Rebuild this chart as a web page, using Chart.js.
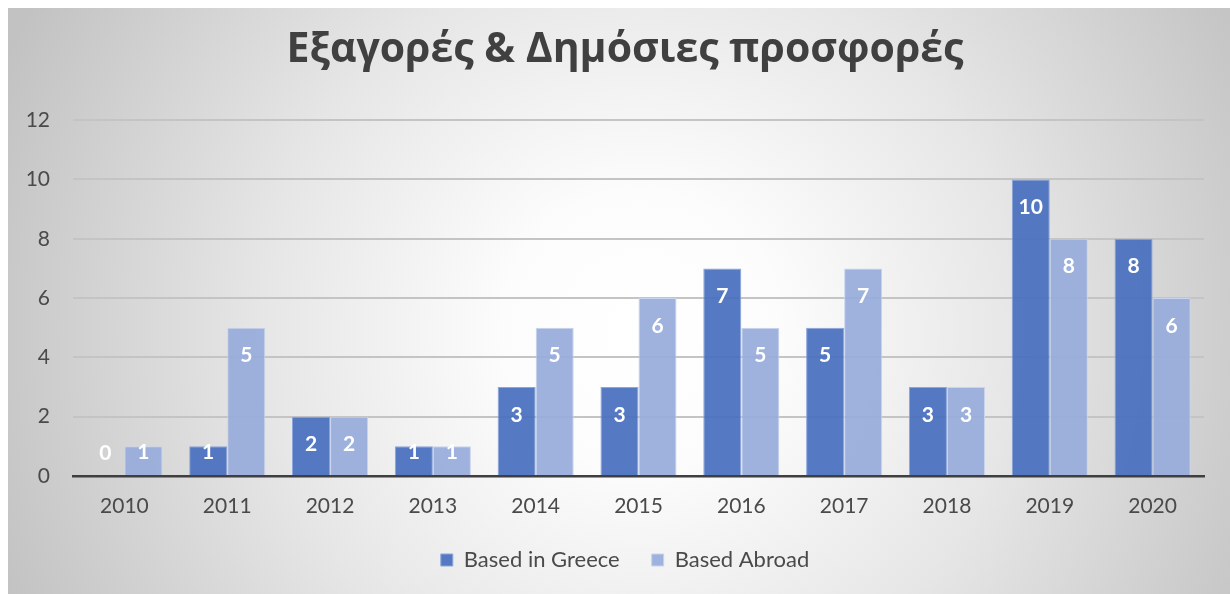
<!DOCTYPE html>
<html>
<head>
<meta charset="utf-8">
<script src="https://cdn.jsdelivr.net/npm/chart.js@4/dist/chart.umd.min.js"></script>
<style>
  html, body { margin: 0; padding: 0; background: #ffffff; }
  #wrap { width: 1230px; height: 594px; position: relative; }
</style>
</head>
<body>
<div id="wrap"><canvas id="c" width="1230" height="594"></canvas></div>
<script>
// Acquisitions & public offers per year
const years = ['2010', '2011', '2012', '2013', '2014', '2015', '2016', '2017', '2018', '2019', '2020'];
const basedInGreece = [0, 1, 2, 1, 3, 3, 7, 5, 3, 10, 8];
const basedAbroad = [1, 5, 2, 1, 5, 6, 5, 7, 3, 8, 6];
const yTicks = [0, 2, 4, 6, 8, 10, 12];

const titleText = 'Εξαγορές & Δημόσιες προσφορές';
const seriesNames = ['Based in Greece', 'Based Abroad'];

// Soft radial panel behind the chart
const panelBackground = {
  id: 'panelBackground',
  beforeDraw(chart) {
    const ctx = chart.ctx;
    const w = chart.width, h = chart.height;
    ctx.save();
    ctx.fillStyle = '#ffffff';
    ctx.fillRect(0, 0, w, h);
    const x0 = 8, y0 = 8;
    const cx = 640, cy = 330;
    const g = ctx.createRadialGradient(cx, cy, 0, cx, cy, 690);
    g.addColorStop(0, '#ffffff');
    g.addColorStop(0.2, '#fcfcfc');
    g.addColorStop(0.55, '#e6e6e6');
    g.addColorStop(1, '#c2c2c2');
    ctx.fillStyle = g;
    ctx.fillRect(x0, y0, w - x0, h - y0);
    ctx.restore();
  }
};

// White value labels near the top of each bar
const barValueLabels = {
  id: 'barValueLabels',
  afterDatasetsDraw(chart) {
    const ctx = chart.ctx;
    ctx.save();
    ctx.font = 'bold 21px Lato, "Open Sans", sans-serif';
    ctx.fillStyle = '#ffffff';
    ctx.textAlign = 'center';
    ctx.textBaseline = 'alphabetic';
    chart.data.datasets.forEach((ds, di) => {
      const meta = chart.getDatasetMeta(di);
      meta.data.forEach((bar, i) => {
        const center = Math.min(bar.y + 27, bar.base - 24);
        ctx.fillText(String(ds.data[i]), bar.x, center + 7.5);
      });
    });
    ctx.restore();
  }
};

new Chart(document.getElementById('c'), {
  type: 'bar',
  data: {
    labels: years,
    datasets: [
      {
        label: seriesNames[0],
        data: basedInGreece,
        backgroundColor: 'rgba(72, 112, 190, 0.93)',
        borderColor: 'rgba(140, 165, 218, 1)',
        borderWidth: 1
      },
      {
        label: seriesNames[1],
        data: basedAbroad,
        backgroundColor: 'rgba(152, 172, 219, 0.93)',
        borderColor: 'rgba(200, 212, 238, 1)',
        borderWidth: 1
      }
    ]
  },
  options: {
    responsive: false,
    animation: false,
    events: [],
    layout: { padding: { left: 20, right: 0, top: 26, bottom: 13 } },
    datasets: {
      bar: { categoryPercentage: 0.74, barPercentage: 1.0 }
    },
    scales: {
      x: {
        afterFit(scale) { scale.height = 41; },
        grid: { display: false, drawTicks: false },
        border: { display: true, color: '#3f3f3f', width: 2.5 },
        ticks: {
          color: '#4a4a4a',
          padding: 18,
          font: { family: 'Lato', size: 21 }
        }
      },
      y: {
        min: 0,
        max: 12,
        afterBuildTicks(scale) {
          scale.ticks = yTicks.map(v => ({ value: v }));
        },
        afterFit(scale) { scale.width = 53; },
        grid: { color: '#c4c4c4', lineWidth: 2, drawTicks: false },
        border: { display: false },
        ticks: {
          color: '#4a4a4a',
          padding: 23,
          font: { family: 'Lato', size: 21 }
        }
      },
      // empty right-hand margin beside the plot
      yRight: {
        position: 'right',
        afterFit(scale) { scale.width = 26; },
        grid: { display: false, drawTicks: false },
        border: { display: false },
        ticks: { display: false }
      }
    },
    plugins: {
      title: {
        display: true,
        text: titleText,
        color: '#404040',
        font: { family: '"Open Sans"', size: 41, weight: 'bold' },
        padding: { top: 0, bottom: 45 }
      },
      legend: {
        position: 'bottom',
        labels: {
          color: '#4a4a4a',
          font: { family: 'Lato', size: 22 },
          boxWidth: 12,
          boxHeight: 12,
          padding: 32
        }
      },
      tooltip: { enabled: false }
    }
  },
  plugins: [panelBackground, barValueLabels]
});
</script>
</body>
</html>
